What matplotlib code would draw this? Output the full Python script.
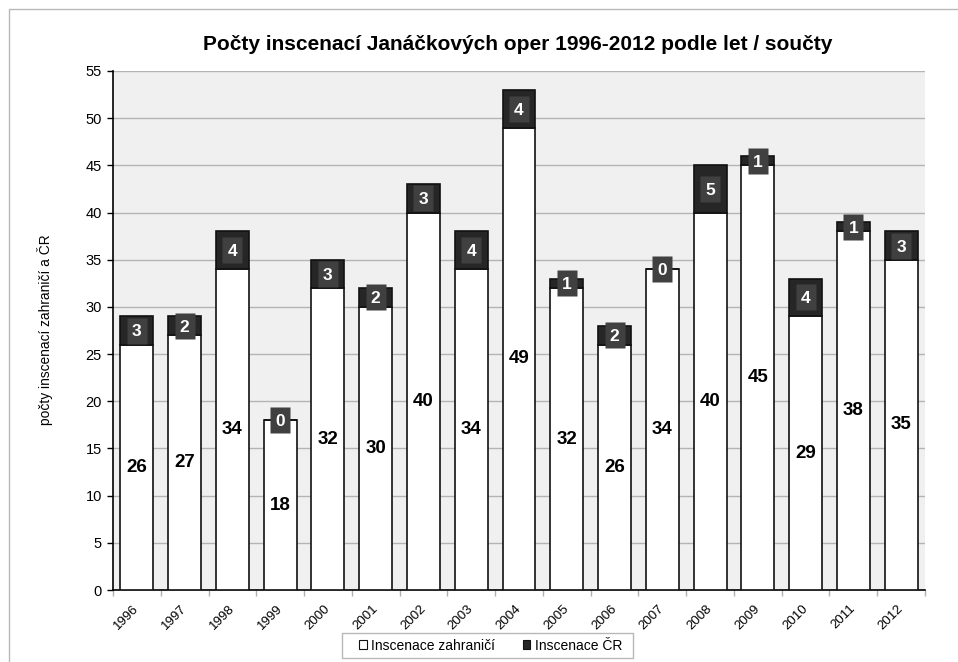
import matplotlib
matplotlib.use("Agg")
import matplotlib.pyplot as plt
import matplotlib.patches as mpatches
import matplotlib.transforms as mtransforms
from matplotlib.path import Path
import numpy as np

plt.rcParams['font.family'] = ['Liberation Sans', 'DejaVu Sans']

years = ['1996', '1997', '1998', '1999', '2000', '2001', '2002', '2003', '2004',
         '2005', '2006', '2007', '2008', '2009', '2010', '2011', '2012']
zahranici = [26, 27, 34, 18, 32, 30, 40, 34, 49, 32, 26, 34, 40, 45, 29, 38, 35]
cr = [3, 2, 4, 0, 3, 2, 3, 4, 4, 1, 2, 0, 5, 1, 4, 1, 3]
y_ticks = list(range(0, 56, 5))

title = 'Počty inscenací Janáčkových oper 1996-2012 podle let / součty'
ylabel = 'počty inscenací zahraničí a ČR'
legend_labels = ['Inscenace zahraničí', 'Inscenace ČR']

W, H = 958, 662
fig = plt.figure(figsize=(W / 100, H / 100), dpi=100)
fig.patch.set_facecolor('white')

# outer chart border
border = mpatches.Rectangle((8.5 / W, -0.05), 1.1, 1 - 9 / H + 0.05,
                            transform=fig.transFigure, fill=False,
                            edgecolor='#b8b8b8', linewidth=1.0, clip_on=False)
fig.patches.append(border)

left, right, bottom, top = 113 / W, 925 / W, 1 - 590 / H, 1 - 71 / H
ax = fig.add_axes([left, bottom, right - left, top - bottom])
ax.set_facecolor('#f0f0f0')

x = np.arange(len(years))
bw = 0.69
ax.bar(x, zahranici, width=bw, color='white', edgecolor='#111111',
       linewidth=1.2, zorder=3)
ax.bar(x, cr, width=bw, bottom=zahranici, color='#262626',
       edgecolor='#111111', linewidth=1.2, zorder=3)

z_arr = np.array(zahranici)
c_arr = np.array(cr)
mids = z_arr + c_arr / 2.0

# label boxes for CR values (20 x 27 px rectangles)
rect = Path([(-10, -13.5), (10, -13.5), (10, 13.5), (-10, 13.5), (-10, -13.5)],
            [Path.MOVETO, Path.LINETO, Path.LINETO, Path.LINETO, Path.CLOSEPOLY])
ax.plot(x, mids, ls='none', marker=rect, markersize=27 * 0.72,
        markerfacecolor='#404040', markeredgecolor='none', zorder=5,
        clip_on=False)

for xi, z, c, m in zip(x, z_arr, c_arr, mids):
    ax.text(xi, z / 2, str(z), ha='center', va='center', fontsize=13.5,
            fontweight='bold', color='black', zorder=5)
    ax.text(xi, m, str(c), ha='center', va='center_baseline', fontsize=12.5,
            fontweight='bold', color='white', zorder=6)

ax.set_xlim(-0.5, len(years) - 0.5)
ax.set_ylim(0, 55)
ax.set_yticks(y_ticks)
ax.set_yticklabels([str(v) for v in y_ticks], fontsize=10.5)
ax.yaxis.grid(True, color='#b4b4b4', linewidth=1.0, zorder=0)
ax.set_axisbelow(True)

ax.set_xticks(x)
ax.set_xticklabels(years, rotation=45, ha='right', va='top',
                   rotation_mode='anchor', fontsize=9.5)
ax.tick_params(axis='x', length=0, pad=6)
shift = mtransforms.ScaledTranslation(-4 / 100, -4 / 100, fig.dpi_scale_trans)
for lab in ax.get_xticklabels():
    lab.set_transform(lab.get_transform() + shift)
ax.set_xticks(np.arange(-0.5, len(years), 1.0), minor=True)
ax.tick_params(axis='x', which='minor', length=4, color='#b0b0b0', width=1)
ax.tick_params(axis='y', length=4, color='black', width=1, pad=4)

for s in ['top', 'right']:
    ax.spines[s].set_visible(False)
ax.spines['left'].set_color('black')
ax.spines['bottom'].set_color('black')
ax.spines['left'].set_linewidth(1.2)
ax.spines['bottom'].set_linewidth(1.2)

fig.text(518 / W, 1 - 45 / H, title, ha='center', va='center', fontsize=15,
         fontweight='bold')
fig.text(45 / W, 1 - 330 / H, ylabel, rotation=90, ha='center',
         va='center', fontsize=9.9)

# legend frame
lframe = mpatches.Rectangle((342 / W, 1 - 658 / H), (633 - 342) / W, 25 / H,
                            transform=fig.transFigure, facecolor='white',
                            edgecolor='#b8b8b8', linewidth=1.0, zorder=1)
fig.patches.append(lframe)

h1 = mpatches.Patch(facecolor='white', edgecolor='#111111', linewidth=0.8)
h2 = mpatches.Patch(facecolor='#262626', edgecolor='#111111', linewidth=0.8)
leg = fig.legend([h1, h2], legend_labels, loc='center',
                 bbox_to_anchor=(490.5 / W, 1 - 645.5 / H), ncol=2,
                 fontsize=10, frameon=False, handlelength=0.55,
                 handleheight=0.55, handletextpad=0.3, columnspacing=2.0,
                 borderpad=0.2)
leg.set_zorder(3)

fig.savefig('out.png', dpi=100, facecolor='white')
